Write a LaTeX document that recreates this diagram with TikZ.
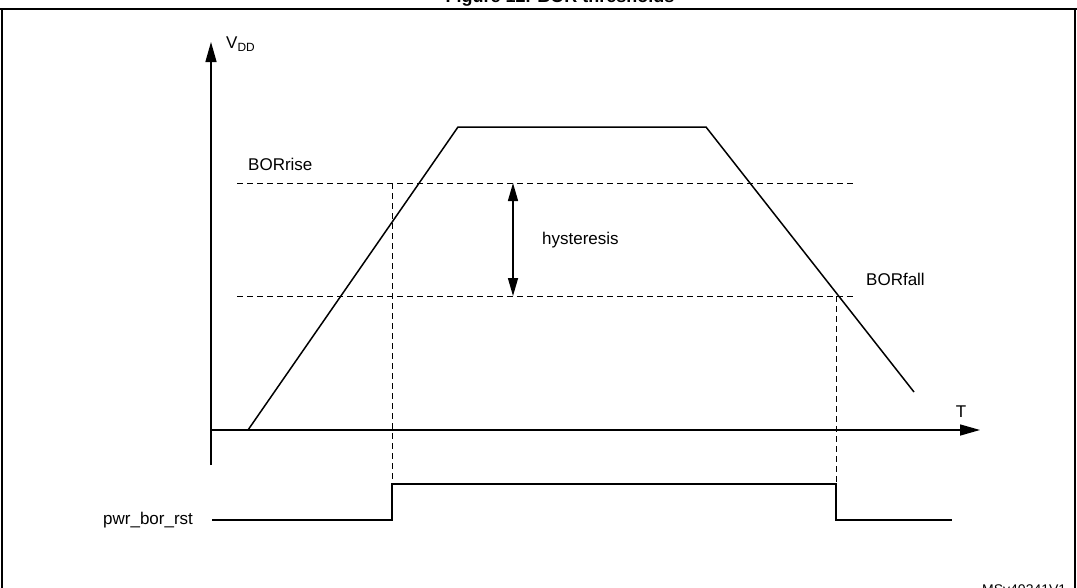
\documentclass[tikz,border=0pt]{standalone}
\usepackage{fontspec}
\setmainfont{Liberation Sans}
\usetikzlibrary{arrows.meta}
\begin{document}
\begin{tikzpicture}[x=1pt,y=-1pt,
  lbl/.style={font=\fontsize{17}{19}\selectfont,inner sep=0pt},
  ln/.style={line width=1.5pt},
  dsh/.style={line width=1pt,dash pattern=on 6pt off 4pt},
  tip/.style={-{Triangle[length=20pt,width=11pt]}}]
\useasboundingbox (0,0) rectangle (1077,587);
\clip (0,0) rectangle (1077,587);
\node[font=\bfseries\fontsize{18}{20}\selectfont,anchor=base] (title) at (560,2) {Figure 12. BOR thresholds};
\draw[line width=2.5pt] (0,9) -- (1077,9);
\draw[line width=1.5pt] (2,9) -- (2,600);
\draw[line width=1.5pt] (1075,9) -- (1075,600);
% axes
\coordinate (vb) at (211,465); \coordinate (vt) at (211,42);
\coordinate (hl) at (211,430); \coordinate (hr) at (980,430);
\draw[ln,tip] (vb) -- (vt);
\draw[ln,tip] (hl) -- (hr);
\node[lbl,anchor=west] (vdd) at (226,44) {V\textsubscript{DD}};
\node[lbl,anchor=south] (t) at (961,418) {T};
% trapezoid
\coordinate (p1) at (248,430); \coordinate (p2) at (458,127);
\coordinate (p3) at (706,127); \coordinate (p4) at (914,392);
\draw[ln] (p1) -- (p2) -- (p3) -- (p4);
% thresholds
\coordinate (r1) at (237,183); \coordinate (r2) at (855,183);
\coordinate (f1) at (237,296); \coordinate (f2) at (855,296);
\draw[dsh] (r1) -- (r2);
\draw[dsh] (f1) -- (f2);
\node[lbl,anchor=west] (borrise) at (248,164) {BORrise};
\node[lbl,anchor=west] (borfall) at (866,279) {BORfall};
\coordinate (h1) at (513,183); \coordinate (h2) at (513,296);
\draw[ln,{Triangle[length=18pt,width=10pt]}-{Triangle[length=18pt,width=10pt]}] (h1) -- (h2);
\node[lbl,anchor=west] (hyst) at (542,240) {hysteresis};
% vertical dashed
\coordinate (d1t) at (392,183); \coordinate (d1b) at (392,520);
\coordinate (d2t) at (836,296); \coordinate (d2b) at (836,520);
\draw[dsh] (d1t) -- (d1b);
\draw[dsh] (d2t) -- (d2b);
% signal
\coordinate (s0) at (212,520); \coordinate (s5) at (952,520);
\draw[ln] (s0) -- (392,520) -- (392,484) -- (836,484) -- (836,520) -- (s5);
\node[lbl,anchor=west] (pwr) at (103,520) {pwr\_bor\_rst};
\node[font=\fontsize{14}{16}\selectfont,anchor=base west,inner sep=0pt] (ms) at (982,594) {MSv40341V1};
\end{tikzpicture}
\end{document}
